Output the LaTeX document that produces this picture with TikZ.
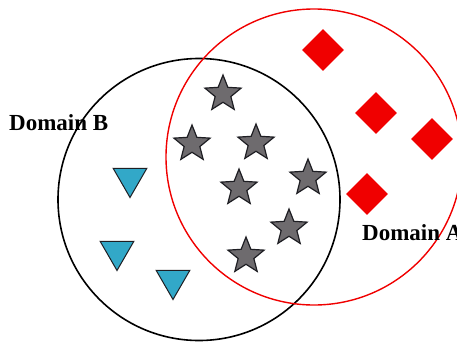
\documentclass[tikz,border=0pt]{standalone}
\usepackage{fontspec}
\setmainfont{Liberation Serif}
\usepackage{xcolor}
\usepackage{tikz}
\usetikzlibrary{shapes.geometric, positioning}
\definecolor{dgray}{RGB}{110, 107, 110}
\definecolor{dcyan}{RGB}{50, 168, 200}
\definecolor{dred}{RGB}{240, 0, 0}
\definecolor{dline}{RGB}{30, 30, 35}

\begin{document}
\begin{tikzpicture}[
    x=1pt, y=-1pt,
    domcircle/.style={circle, draw, inner sep=0pt},
    shared/.style={star, star points=5, star point ratio=2.3, draw=dline, line width=1.2pt, fill=dgray, minimum size=38pt, inner sep=0pt},
    onlyb/.style={regular polygon, regular polygon sides=3, shape border rotate=180, draw=dline, line width=1pt, fill=dcyan, minimum size=39pt, inner sep=0pt},
    onlya/.style={diamond, fill=dred, minimum width=42pt, minimum height=42pt, inner sep=0pt},
    domlabel/.style={anchor=base west, font=\fontsize{23}{23}\selectfont\bfseries, inner sep=0pt},
]
    \useasboundingbox (0,0) rectangle (457,343);

    % Domains
    \node[domcircle, draw=black, line width=1.6pt, minimum size=282pt] (domb) at (199,199.5) {};
    \node[domcircle, draw=dred, line width=1.4pt, minimum size=296pt] (doma) at (314,157) {};

    % Samples shared by both domains
    \node[shared] (s1) at (223,94) {};
    \node[shared] (s2) at (192,144) {};
    \node[shared] (s3) at (256,143) {};
    \node[shared] (s4) at (239,188) {};
    \node[shared] (s5) at (308,178) {};
    \node[shared] (s6) at (289,228) {};
    \node[shared] (s7) at (246,256) {};

    % Samples of Domain B
    \node[onlyb] (b1) at (130,178) {};
    \node[onlyb] (b2) at (117,251) {};
    \node[onlyb] (b3) at (173,280) {};

    % Samples of Domain A
    \node[onlya] (a1) at (323,50) {};
    \node[onlya] (a2) at (376,113) {};
    \node[onlya] (a3) at (432,139) {};
    \node[onlya] (a4) at (367,194) {};

    % Labels
    \node[domlabel] (lb) at (9,130) {Domain B};
    \node[domlabel] (la) at (362,240) {Domain A};
\end{tikzpicture}
\end{document}
